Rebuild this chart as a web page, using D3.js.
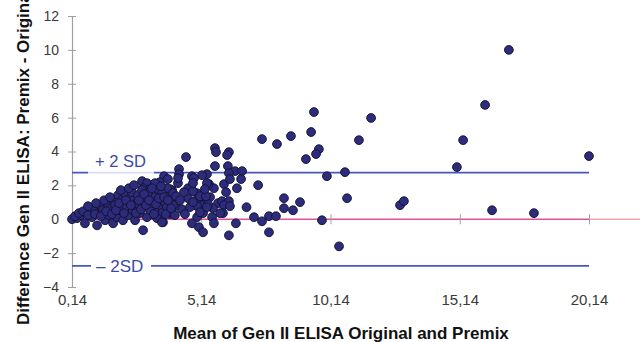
<!DOCTYPE html>
<html>
<head>
<meta charset="utf-8">
<script src="https://cdn.jsdelivr.net/npm/d3@7"></script>
<style>
  body { margin: 0; background: #fff; }
  svg { display: block; font-family: "Liberation Sans", Arial, sans-serif; }
</style>
</head>
<body>
<svg width="640" height="342"></svg>
<script>
// mean of the two methods (x) and their difference (y)
const means = [
  17.04, 16.12, 15.27, 15.03, 20.14, 16.39, 18.01, 12.83, 12.98, 11.71,
  11.24, 10.00, 10.70, 10.78, 10.47, 9.81, 9.50, 7.49, 8.07, 8.61,
  9.39, 9.69, 9.58, 9.19, 7.34, 8.34, 8.96, 8.34, 8.69, 7.18,
  7.49, 7.76, 8.03, 7.76, 6.89,
  4.55, 5.67, 5.71, 6.21, 6.14, 5.67, 6.17, 6.45, 6.72, 6.21,
  6.68, 4.28, 4.28, 4.78, 4.86, 5.36, 4.24, 4.01, 4.63, 4.98,
  5.44, 5.63, 6.02, 6.10, 6.52, 5.48, 5.32, 5.21, 5.79, 5.94,
  6.21, 6.02, 4.09, 4.39, 4.63, 5.01, 5.13, 5.21, 4.98, 5.56,
  5.63, 5.98, 4.78, 5.05, 5.21, 6.21, 6.48, 3.93,
  3.66, 4.82, 5.09, 5.40, 6.25, 5.59, 4.98, 4.01, 4.12, 3.93,
  3.58, 3.23, 5.40, 5.87, 6.25, 2.89,
  3.70, 3.85, 3.54, 2.85, 3.04, 3.35, 2.89, 3.16, 3.47, 3.81,
  4.24, 5.32, 5.36, 4.82, 5.17, 5.28,
  0.14, 0.33, 0.49, 0.64, 0.68, 0.84, 0.91, 0.99, 1.11, 1.15,
  1.22, 1.34, 1.42, 1.49, 1.57, 1.65, 1.73, 1.73, 1.80, 1.88,
  1.92, 2.00, 2.07, 2.11, 2.19, 2.27, 2.31, 2.38, 2.46, 2.50,
  2.58, 2.65, 2.69, 2.77, 2.85, 2.89, 2.96, 3.04, 3.08, 3.16,
  3.27, 3.35, 3.43, 3.47, 3.54, 3.62, 3.66, 3.74, 3.81, 3.93,
  4.05, 4.12, 4.05, 3.62, 4.70, 4.82, 5.09, 5.36,
  0.26, 0.41, 0.57, 0.76, 0.76, 1.03, 1.07, 1.26, 1.38, 1.46,
  1.61, 1.69, 1.84, 1.96, 2.03, 2.15, 2.23, 2.34, 2.42, 2.54,
  2.61, 2.73, 2.81, 2.93, 3.00, 3.12, 3.23, 3.31, 3.39, 3.50,
  3.58, 3.70, 3.77, 3.85, 3.97, 4.16, 4.32, 4.47, 4.51
];
const diffs = [
  10.00, 6.75, 4.67, 3.08, 3.73, 0.53, 0.36, 0.83, 1.07, 5.98,
  4.67, 2.54, 2.78, 1.24, -1.60, -0.06, 6.33, 4.73, 4.44, 4.91,
  5.15, 4.14, 3.85, 3.55, 2.01, 1.24, 1.01, 0.65, 0.53, 0.12,
  -0.12, 0.18, 0.18, -0.77, 0.71,
  3.67, 4.20, 3.96, 3.96, 3.79, 3.14, 3.14, 2.84, 2.84, 2.72,
  2.37, 2.96, 2.66, 2.54, 2.43, 2.66, 2.13, 1.72, 1.83, 1.54,
  2.07, 1.83, 2.07, 1.60, 1.83, 1.30, 1.07, 0.83, 0.95, 1.07,
  1.07, 0.83, 0.89, 0.59, 1.24, 1.24, 0.47, 0.36, 0.12, 0.12,
  -0.24, 0.36, -0.24, -0.47, -0.77, -0.95, -0.24, 1.78,
  -0.18, 1.66, 1.36, 2.01, 2.37, 0.65, 0.77, 1.12, 0.77, 0.30,
  0.18, 0.30, 0.89, 0.36, 0.77, -0.65,
  2.54, 2.37, 2.19, 2.25, 2.13, 2.13, 1.83, 1.78, 1.72, 1.83,
  2.43, 1.36, 2.13, 2.13, 2.60, 1.78,
  0.00, 0.06, 0.24, -0.24, 0.36, 0.53, 0.12, 0.71, -0.36, 0.36,
  0.83, 0.53, -0.06, 0.95, 0.24, 0.65, -0.24, 1.12, 0.83, 0.12,
  1.42, 0.53, 1.12, -0.06, 1.54, 0.71, 0.24, 1.24, 1.60, 0.53,
  -0.06, 0.95, 1.42, 0.36, 1.72, 0.71, 1.24, 0.12, 1.54, 0.53,
  0.95, 1.30, 0.06, 0.53, 0.83, 1.54, 0.41, 1.01, 0.71, 1.30,
  0.83, 0.24, 1.54, -0.18, 0.71, 1.01, 0.41, 0.71,
  0.18, 0.36, 0.47, 0.24, 0.77, 0.30, 0.95, 0.18, 1.12, 0.47,
  1.30, 0.30, 0.53, 0.95, 1.72, 0.36, 1.12, 1.83, 0.83, 2.01,
  0.36, 1.12, 0.59, 1.48, 0.83, 1.12, 1.83, 0.30, 0.89, 1.24,
  1.95, 1.30, 0.30, 1.12, 0.65, 1.36, 1.12, 1.60, 0.30
];

const xTicks = [0.14, 5.14, 10.14, 15.14, 20.14];
const yTicks = [-4, -2, 0, 2, 4, 6, 8, 10, 12];
const meanDiff = 0;
const upperSD = 2.75;
const lowerSD = -2.75;

const svg = d3.select("svg");
const x = d3.scaleLinear().domain([0.14, 20.14]).range([72, 589]);
const y = d3.scaleLinear().domain([-4, 12]).range([287, 16]);

// y axis
const yAxis = svg.append("g")
  .attr("transform", "translate(72,0)")
  .call(d3.axisLeft(y).tickValues(yTicks).tickSize(4)
    .tickFormat(d => (d < 0 ? "\u2212" + Math.abs(d) : d)));
yAxis.select(".domain").attr("stroke", "#a0a0a0").attr("stroke-width", 1.2);
yAxis.selectAll(".tick line").attr("stroke", "#a0a0a0").attr("x1", 4).attr("x2", -4);
yAxis.selectAll(".tick text").attr("x", -13).attr("fill", "#3a3a3a")
  .style("font-size", "14px");

// mean line (pink), extends past the last tick
svg.append("line")
  .attr("x1", x(0.14)).attr("x2", x(20.14))
  .attr("y1", y(meanDiff)).attr("y2", y(meanDiff))
  .attr("stroke", "#e0559a").attr("stroke-width", 1.6);
svg.append("line")
  .attr("x1", x(20.14)).attr("x2", 640)
  .attr("y1", y(meanDiff)).attr("y2", y(meanDiff))
  .attr("stroke", "#f7a5ac").attr("stroke-width", 1.6);

// x axis: ticks sit on the zero line, labels below the plot
const xAxis = svg.append("g")
  .attr("transform", `translate(0,${y(0)})`)
  .call(d3.axisBottom(x).tickValues(xTicks).tickSize(4)
    .tickFormat(d => d3.format(".2f")(d).replace(".", ",")));
xAxis.select(".domain").remove();
xAxis.selectAll(".tick line").attr("stroke", "#a0a0a0").attr("y1", -5).attr("y2", 5);
xAxis.selectAll(".tick text").attr("y", y(-4) - y(0) + 7).attr("fill", "#3a3a3a")
  .style("font-size", "15px");

// limits of agreement
[upperSD, lowerSD].forEach(v => {
  svg.append("line")
    .attr("x1", x(0.14)).attr("x2", x(20.14))
    .attr("y1", y(v)).attr("y2", y(v))
    .attr("stroke", "#4657c2").attr("stroke-width", 1.6);
});

svg.append("rect")
  .attr("x", 88).attr("y", y(upperSD) - 19).attr("width", 66).attr("height", 21)
  .attr("fill", "#fff").attr("fill-opacity", 0.8);
svg.append("text")
  .attr("x", 95).attr("y", y(upperSD) - 6)
  .attr("fill", "#3b49a8").style("font-size", "16.5px")
  .text("+ 2 SD");

svg.append("rect")
  .attr("x", 91).attr("y", y(lowerSD) - 10).attr("width", 60).attr("height", 20)
  .attr("fill", "#fff");
svg.append("text")
  .attr("x", 96).attr("y", y(lowerSD) + 6)
  .attr("fill", "#3b49a8").style("font-size", "17px")
  .text("\u2013 2SD");

// points
svg.append("g").selectAll("circle")
  .data(means.map((m, i) => [m, diffs[i]]))
  .join("circle")
  .attr("cx", d => x(d[0]))
  .attr("cy", d => y(d[1]))
  .attr("r", 4.4)
  .attr("fill", "#2c2b7c")
  .attr("stroke", "#12122e")
  .attr("stroke-width", 0.9);

// axis titles
svg.append("text")
  .attr("x", 341).attr("y", 339)
  .attr("text-anchor", "middle")
  .style("font-size", "17px").style("font-weight", "bold").attr("fill", "#111")
  .text("Mean of Gen II ELISA Original and Premix");

svg.append("text")
  .attr("transform", "translate(29,325) rotate(-90)")
  .style("font-size", "17px").style("font-weight", "bold").attr("fill", "#111")
  .text("Difference Gen II ELISA: Premix - Original");
</script>
</body>
</html>
